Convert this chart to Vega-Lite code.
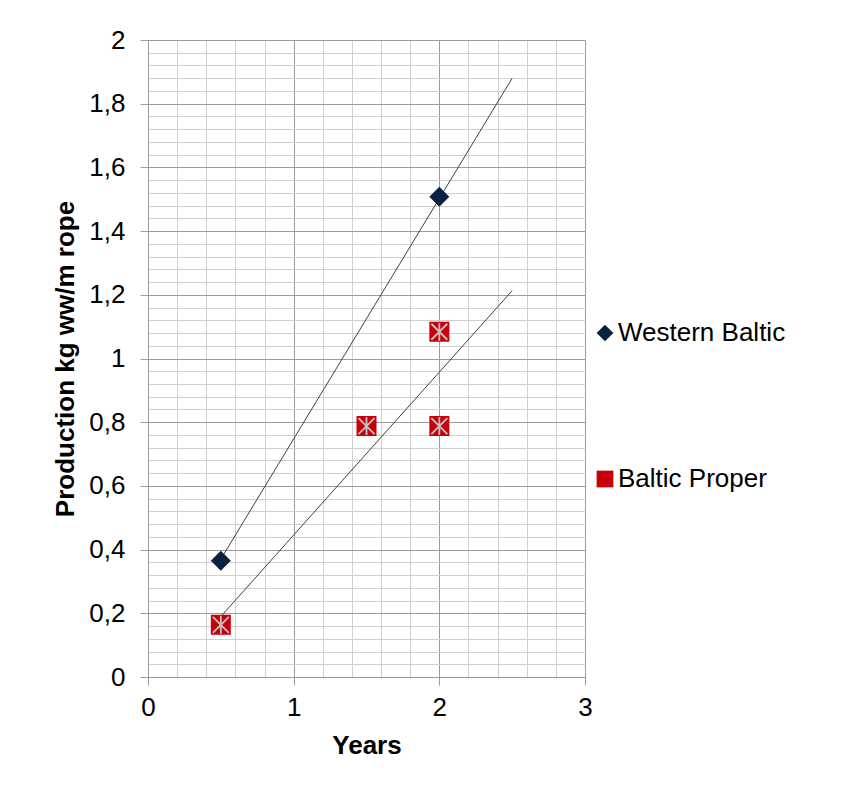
{
  "$schema": "https://vega.github.io/schema/vega-lite/v6.json",
  "width": 437,
  "height": 637,
  "autosize": "none",
  "padding": {"left": 148, "top": 40, "right": 270, "bottom": 119},
  "background": "white",
  "config": {
    "font": "Liberation Sans",
    "view": {"stroke": null},
    "axis": {"labelFont": "Liberation Sans", "titleFont": "Liberation Sans"}
  },
  "datasets": {
    "points": [
      {"series": "Western Baltic", "x": 0.5, "y": 0.365},
      {"series": "Western Baltic", "x": 2.0, "y": 1.508},
      {"series": "Baltic Proper", "x": 0.5, "y": 0.164},
      {"series": "Baltic Proper", "x": 1.5, "y": 0.788},
      {"series": "Baltic Proper", "x": 2.0, "y": 0.788},
      {"series": "Baltic Proper", "x": 2.0, "y": 1.084}
    ],
    "trend": [
      {"series": "Western Baltic", "x": 0.5, "y": 0.37},
      {"series": "Western Baltic", "x": 2.5, "y": 1.88},
      {"series": "Baltic Proper", "x": 0.5, "y": 0.19},
      {"series": "Baltic Proper", "x": 2.5, "y": 1.213}
    ]
  },
  "layer": [
    {
      "data": {"name": "trend"},
      "mark": {"type": "line", "color": "#404040", "strokeWidth": 1},
      "encoding": {
        "x": {
          "field": "x", "type": "quantitative",
          "scale": {"domain": [0, 3], "nice": false, "zero": false},
          "axis": {
            "title": "Years",
            "titleFontSize": 26, "titleFontWeight": "bold", "titleColor": "black", "titlePadding": 12,
            "values": [0, 0.2, 0.4, 0.6, 0.8, 1, 1.2, 1.4, 1.6, 1.8, 2, 2.2, 2.4, 2.6, 2.8, 3],
            "tickCount": 200,
            "labelExpr": "round(datum.value*10) % 10 === 0 ? format(datum.value, 'd') : ''",
            "labelFontSize": 26, "labelColor": "black", "labelPadding": 9,
            "labelOverlap": false, "labelFlush": false, "labelBound": false,
            "grid": true,
            "gridColor": {"condition": {"test": "round(datum.value*10) % 10 === 0", "value": "#9a9a9a"}, "value": "#cfcfcf"},
            "gridWidth": 1,
            "tickSize": 8,
            "tickColor": {"condition": {"test": "round(datum.value*10) % 10 === 0", "value": "#9a9a9a"}, "value": "rgba(0,0,0,0)"},
            "domainColor": "#9a9a9a"
          }
        },
        "y": {
          "field": "y", "type": "quantitative",
          "scale": {"domain": [0, 2], "nice": false},
          "axis": {
            "title": "Production kg ww/m rope",
            "titleFontSize": 26, "titleFontWeight": "bold", "titleColor": "black", "titlePadding": 10,
            "values": [0,0.04,0.08,0.12,0.16,0.2,0.24,0.28,0.32,0.36,0.4,0.44,0.48,0.52,0.56,0.6,0.64,0.68,0.72,0.76,0.8,0.84,0.88,0.92,0.96,1,1.04,1.08,1.12,1.16,1.2,1.24,1.28,1.32,1.36,1.4,1.44,1.48,1.52,1.56,1.6,1.64,1.68,1.72,1.76,1.8,1.84,1.88,1.92,1.96,2],
            "tickCount": 200,
            "labelExpr": "round(datum.value*100) % 20 === 0 ? replace(format(datum.value, '.1~f'), '.', ',') : ''",
            "labelFontSize": 26, "labelColor": "black", "labelPadding": 15,
            "labelOverlap": false, "labelFlush": false, "labelBound": false,
            "grid": true,
            "gridColor": {"condition": {"test": "round(datum.value*100) % 20 === 0", "value": "#9a9a9a"}, "value": "#cfcfcf"},
            "gridWidth": 1,
            "tickSize": 8,
            "tickColor": {"condition": {"test": "round(datum.value*100) % 20 === 0", "value": "#9a9a9a"}, "value": "rgba(0,0,0,0)"},
            "domainColor": "#9a9a9a"
          }
        },
        "detail": {"field": "series", "type": "nominal"}
      }
    },
    {
      "data": {"name": "points"},
      "mark": {"type": "point", "filled": true, "size": 400, "opacity": 1, "strokeWidth": 0},
      "encoding": {
        "x": {"field": "x", "type": "quantitative"},
        "y": {"field": "y", "type": "quantitative"},
        "shape": {
          "field": "series", "type": "nominal",
          "scale": {"domain": ["Western Baltic", "Baltic Proper"], "range": ["diamond", "square"]},
          "legend": {
            "title": null, "orient": "none", "legendX": 444, "legendY": 280,
            "padding": 0, "rowPadding": 120, "symbolSize": 280,
            "labelFontSize": 26, "labelColor": "black", "labelFont": "Liberation Sans", "labelLimit": 400,
            "labelOffset": 0, "symbolStrokeWidth": 0, "symbolOpacity": 1
          }
        },
        "color": {
          "field": "series", "type": "nominal",
          "scale": {"domain": ["Western Baltic", "Baltic Proper"], "range": ["#0b2142", "#c8000a"]},
          "legend": {
            "title": null, "orient": "none", "legendX": 444, "legendY": 280,
            "padding": 0, "rowPadding": 120, "symbolSize": 280,
            "labelFontSize": 26, "labelColor": "black", "labelFont": "Liberation Sans", "labelLimit": 400,
            "labelOffset": 0, "symbolStrokeWidth": 0, "symbolOpacity": 1
          }
        }
      }
    },
    {
      "data": {"name": "points"},
      "transform": [{"filter": "datum.series === 'Baltic Proper'"}],
      "mark": {"type": "point", "filled": false, "size": 400, "opacity": 1, "strokeWidth": 1.8, "color": "#c4c4c4",
               "shape": "M-0.8,-0.8L0.8,0.8M-0.8,0.8L0.8,-0.8M0,-0.9L0,0.9"},
      "encoding": {
        "x": {"field": "x", "type": "quantitative"},
        "y": {"field": "y", "type": "quantitative"}
      }
    }
  ]
}
